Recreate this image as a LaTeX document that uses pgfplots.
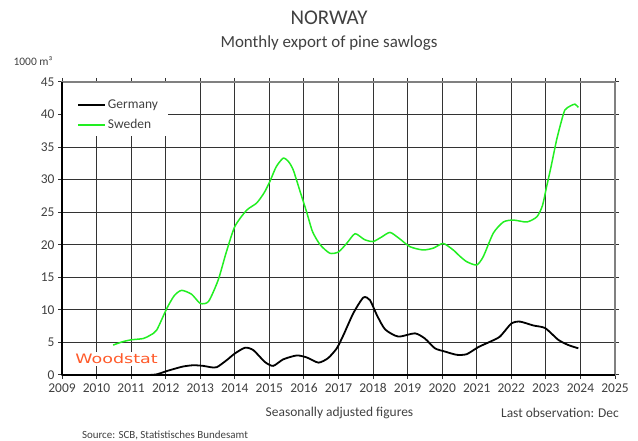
\documentclass[border=0pt]{standalone}
\usepackage{pgfplots}
\pgfplotsset{compat=1.18}
\usepackage{fontspec}
\setmainfont{Carlito}
\newfontfamily\logofont{DejaVu Sans}
\definecolor{txt}{HTML}{404040}
\definecolor{swe}{HTML}{22EE22}
\definecolor{wood}{HTML}{FF5A2A}
\begin{document}
\begin{tikzpicture}
\useasboundingbox (0bp,0bp) rectangle (638bp,441bp);
\node[text=txt, font=\fontsize{21}{24}\selectfont] at (329bp,423bp) {NORWAY};
\node[text=txt, font=\fontsize{17}{20}\selectfont] at (329bp,398bp) {Monthly export of pine sawlogs};
\node[text=txt, font=\fontsize{11.5}{13}\selectfont] at (33bp,380bp) {1000 m³};
\node[text=txt, font=\fontsize{13.5}{15}\selectfont] at (339.5bp,28bp) {Seasonally adjusted figures};
\node[text=txt, font=\fontsize{13.5}{15}\selectfont] at (560bp,28bp) {Last observation: Dec};
\node[text=txt, font=\fontsize{11}{13}\selectfont] at (165bp,6bp) {Source: SCB, Statistisches Bundesamt};
\begin{axis}[
  at={(62bp,66bp)}, anchor=south west, scale only axis,
  width=553bp, height=293bp,
  xmin=2009, xmax=2025, ymin=0, ymax=45,
  xtick={2009,2010,...,2025}, ytick={0,5,...,45},
  /pgf/number format/1000 sep={},
  /pgf/number format/assume math mode=true,
  xmajorgrids, ymajorgrids,
  major grid style={black!80, line width=1.1bp},
  axis line style={gray, line width=1.2bp},
  tick align=center, major tick length=8bp,
  major tick style={black!80, line width=1bp},
  ticklabel style={text=txt, font=\fontsize{13.5}{15}\selectfont},
  xticklabel style={yshift=-1bp},
  legend style={at={(0,1)}, anchor=north west, xshift=5bp, yshift=-4bp, draw=none, fill=none,
    inner xsep=10bp, inner ysep=12bp, row sep=5bp,
    font=\fontsize{13.5}{15}\selectfont, text=txt},
  legend cell align=left,
  legend image code/.code={\draw[#1] (0bp,0bp) -- (27bp,0bp);},
  clip=false,
]
\fill[white] (rel axis cs:0,1) ++(1bp,-1.5bp) rectangle ++(105bp,-53bp);
\addplot[black, line width=1.8bp, smooth, tension=0.4] coordinates {
(2010.50,0) (2011.00,0) (2011.50,0) (2011.74,0.1) (2012.03,0.6) (2012.22,0.9)
(2012.50,1.3) (2012.80,1.5) (2013.09,1.4) (2013.30,1.2) (2013.48,1.2)
(2013.77,2.3) (2014.00,3.3) (2014.30,4.2) (2014.54,3.8) (2014.87,2.0)
(2015.11,1.4) (2015.40,2.4) (2015.79,3.0) (2016.08,2.7) (2016.42,1.9)
(2016.70,2.6) (2016.95,4.1) (2017.14,6.1) (2017.43,9.5) (2017.72,11.9)
(2017.91,11.5) (2018.11,9.2) (2018.35,7.0) (2018.73,5.9) (2019.21,6.4)
(2019.50,5.6) (2019.79,4.1) (2020.08,3.6) (2020.42,3.1) (2020.71,3.2)
(2021.05,4.3) (2021.38,5.1) (2021.67,5.9) (2022.00,7.9) (2022.25,8.2)
(2022.64,7.6) (2022.98,7.2) (2023.36,5.4) (2023.65,4.6) (2023.94,4.1)
};
\addlegendentry{Germany}
\addplot[swe, line width=1.5bp, smooth, tension=0.4] coordinates {
(2010.48,4.6) (2010.75,5.1) (2011.00,5.4) (2011.35,5.6) (2011.55,6.1)
(2011.74,6.9) (2012.03,10.2) (2012.25,12.2) (2012.46,13.0) (2012.75,12.4)
(2013.00,11.0) (2013.24,11.3) (2013.52,14.6) (2013.75,18.8) (2014.00,22.8)
(2014.34,25.3) (2014.63,26.4) (2014.85,28.0) (2015.02,29.8) (2015.20,32.0)
(2015.40,33.3) (2015.55,32.8) (2015.69,31.5) (2015.90,28.0) (2016.08,25.0)
(2016.25,22.0) (2016.47,20.0) (2016.75,18.7) (2017.00,18.9) (2017.25,20.3)
(2017.48,21.7) (2017.75,20.8) (2018.00,20.5) (2018.25,21.2) (2018.49,21.9)
(2018.75,21.0) (2019.07,19.7) (2019.45,19.2) (2019.75,19.5) (2020.03,20.2)
(2020.32,19.2) (2020.50,18.3) (2020.71,17.4) (2021.00,16.9) (2021.19,18.2)
(2021.48,21.8) (2021.77,23.5) (2022.06,23.8) (2022.45,23.5) (2022.74,24.3)
(2022.90,26.0) (2023.02,28.9) (2023.15,32.0) (2023.31,36.1) (2023.45,39.0)
(2023.55,40.7) (2023.70,41.3) (2023.84,41.6) (2023.94,41.1)
};
\addlegendentry{Sweden}
\draw[black, line width=2bp] (rel axis cs:0,0) -- (rel axis cs:0,1);
\draw[black, line width=2bp] (rel axis cs:0,0) -- (rel axis cs:1,0);
\node[text=wood, fill=white, inner xsep=1bp, inner ysep=2bp, font=\logofont\fontsize{13}{14}\selectfont] at (axis cs:2010.58,2.45) {\scalebox{1.35}[1]{Woodstat}};
\end{axis}
\end{tikzpicture}
\end{document}
